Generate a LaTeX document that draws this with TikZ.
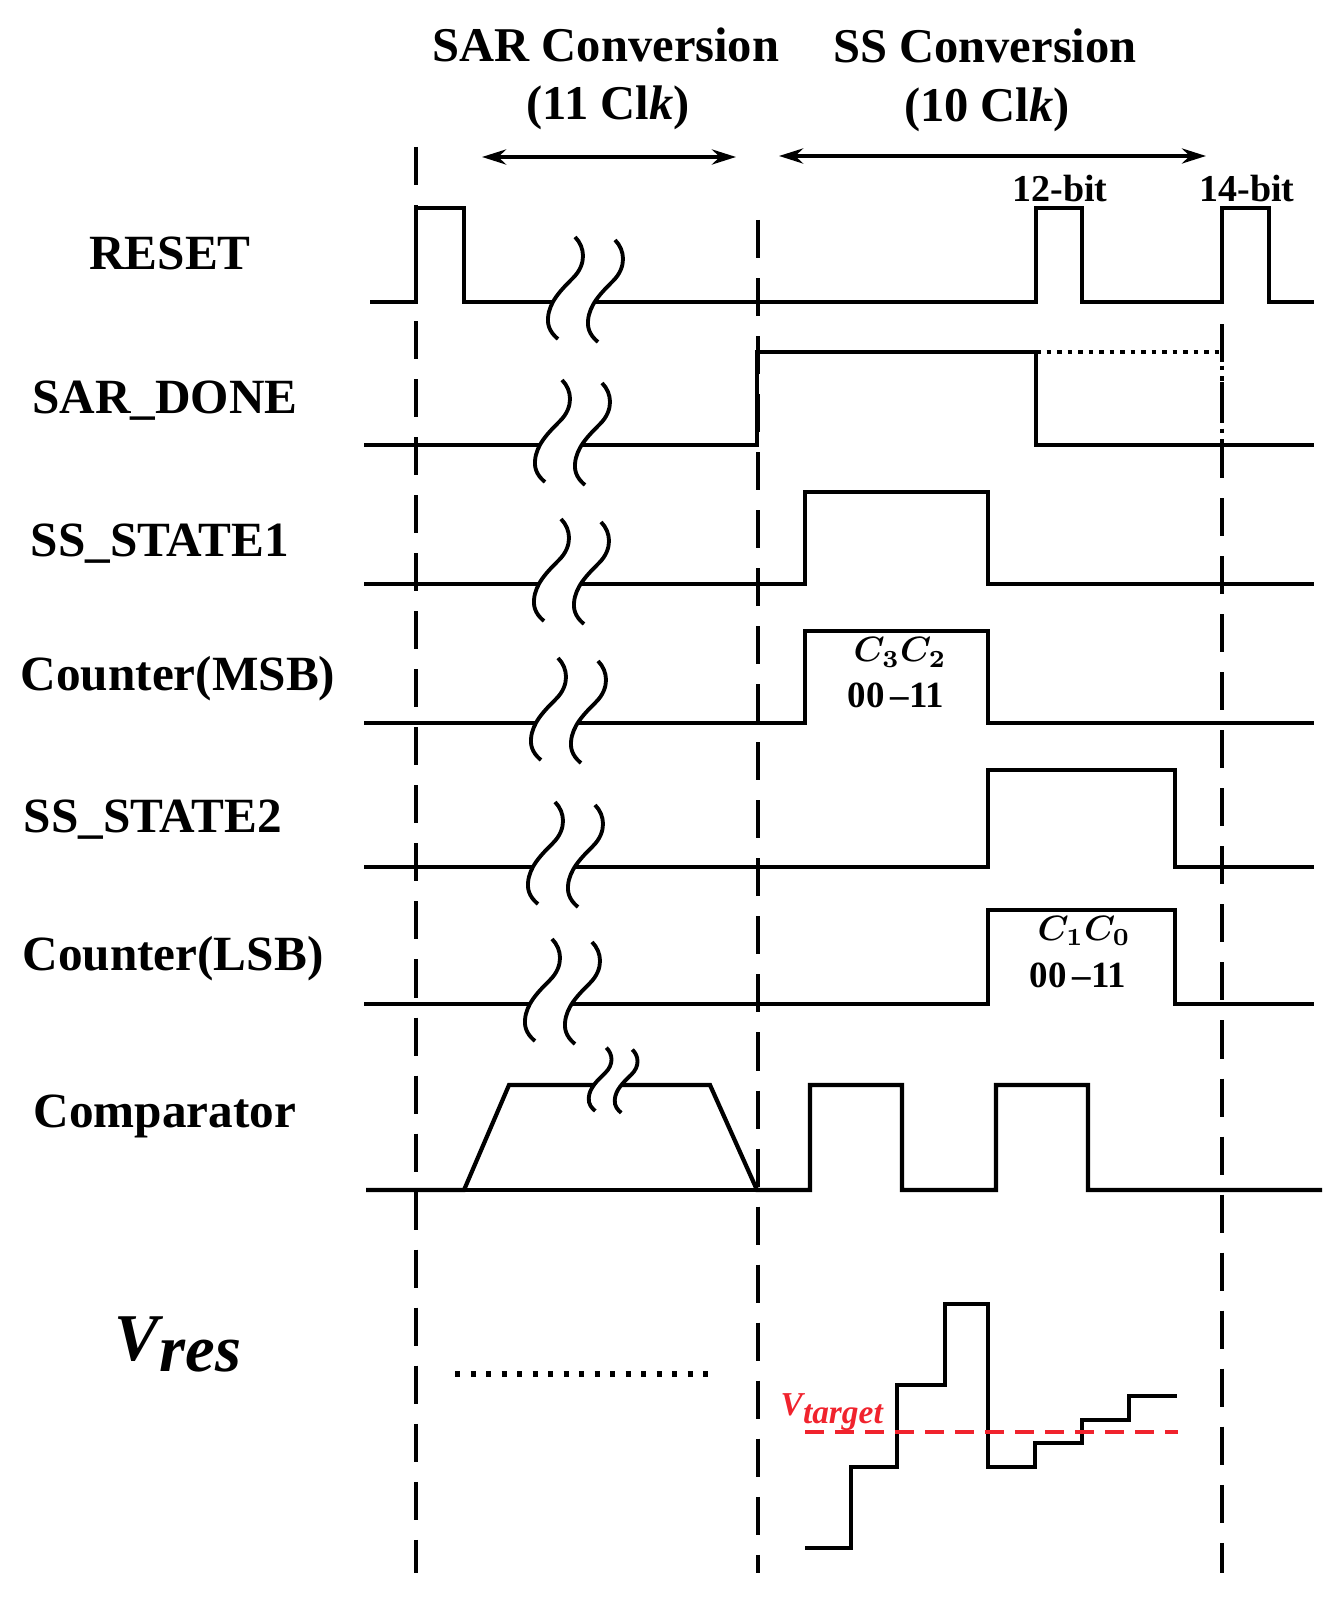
\documentclass[tikz,border=0pt]{standalone}
\usepackage{fontspec}
\setmainfont{Liberation Serif}
\usetikzlibrary{arrows.meta}
\definecolor{tgtred}{RGB}{240,35,45}
\tikzset{
  sig/.style={line width=1.2pt, line join=miter},
  guide/.style={line width=0.9pt, dash pattern=on 0.38cm off 0.2cm},
  dotsig/.style={line width=1.3pt, dash pattern=on 0.045cm off 0.06cm},
  vdots/.style={line width=1.5pt, dash pattern=on 0.05cm off 0.105cm},
  tgtline/.style={tgtred, line width=1pt, dash pattern=on 0.19cm off 0.11cm},
  lbl/.style={font=\fontsize{14}{16}\selectfont\bfseries, anchor=base, inner sep=0pt},
  ttl/.style={font=\fontsize{13.8}{16}\selectfont\bfseries, anchor=base, inner sep=0pt},
  bit/.style={font=\fontsize{10.8}{12}\selectfont\bfseries, anchor=base, inner sep=0pt},
  cnt/.style={font=\fontsize{10.5}{12}\selectfont\bfseries, anchor=base, inner sep=0pt},
  cbits/.style={font=\fontsize{10}{11}\selectfont\boldmath, anchor=base, inner sep=0pt},
  span/.style={line width=1.3pt, {Stealth[length=2.4mm,width=1.5mm]}-{Stealth[length=2.4mm,width=1.5mm]}},
  breakmark/.pic={
    \fill[white] (22,-65) .. controls (32,-55) and (34,-38) .. (20,-24) .. controls (8,-12) and (-4,0) .. (-5,16)
      .. controls (-6,26) and (0,33) .. (5,37) -- (45,40) .. controls (40,36) and (34,29) .. (35,19)
      .. controls (36,3) and (48,-9) .. (60,-21) .. controls (74,-35) and (72,-52) .. (62,-62) -- cycle;
    \draw[line width=1.1pt] (22,-65) .. controls (32,-55) and (34,-38) .. (20,-24) .. controls (8,-12) and (-4,0) .. (-5,16)
      .. controls (-6,26) and (0,33) .. (5,37);
    \draw[line width=1.1pt] (62,-62) .. controls (72,-52) and (74,-35) .. (60,-21) .. controls (48,-9) and (36,3) .. (35,19)
      .. controls (34,29) and (40,36) .. (45,40);
  }
}

\begin{document}
\begin{tikzpicture}[x=0.01cm, y=-0.01cm]
    \useasboundingbox (0,0) rectangle (1341,1598);

    \node[ttl] (sartitle) at (606,62)  {SAR Conversion};
    \node[ttl] (sarclk)   at (608,120) {(11 Cl\textit{k})};
    \node[ttl] (sstitle)  at (985,63)  {SS Conversion};
    \node[ttl] (ssclk)    at (987,122) {(10 Cl\textit{k})};
    \coordinate (sarL) at (482,157);
    \coordinate (sarR) at (736,157);
    \coordinate (ssL)  at (779,156);
    \coordinate (ssR)  at (1206,156);
    \draw[span] (sarL) -- (sarR);
    \draw[span] (ssL)  -- (ssR);
    \node[bit] (bit12) at (1060,202) {12-bit};
    \node[bit] (bit14) at (1247,202) {14-bit};

    \foreach \gx/\gy in {416/147, 758/220, 1222/208}
        \draw[guide] (\gx,\gy) -- (\gx,1573);

    \node[lbl] (reset)   at (170,270)  {RESET};
    \node[lbl] (sardone) at (165,414)  {SAR\_DONE};
    \node[lbl] (ssone)   at (160,557)  {SS\_STATE1};
    \node[lbl] (cntmsb)  at (178,690)  {Counter(MSB)};
    \node[lbl] (sstwo)   at (153,832)  {SS\_STATE2};
    \node[lbl] (cntlsb)  at (173,970)  {Counter(LSB)};
    \node[lbl] (comp)    at (165,1127) {Comparator};
    \node[font=\fontsize{19}{20}\selectfont\bfseries\itshape, anchor=base, inner sep=0pt] (vres) at (178,1360) {V\raisebox{-0.11cm}{res}};

    \draw[sig] (370,302) -- (416,302) -- (416,208) -- (464,208) -- (464,302) -- (1036,302) -- (1036,208)
        -- (1082,208) -- (1082,302) -- (1222,302) -- (1222,208) -- (1269,208) -- (1269,302) -- (1314,302);
    \draw[sig] (364,445) -- (757,445) -- (757,352) -- (1036,352) -- (1036,445) -- (1314,445);
    \draw[dotsig] (1036,352) -- (1222,352) -- (1222,445);
    \draw[sig] (364,584) -- (805,584) -- (805,492) -- (988,492) -- (988,584) -- (1314,584);
    \draw[sig] (364,723) -- (805,723) -- (805,631) -- (988,631) -- (988,723) -- (1314,723);
    \draw[sig] (364,867) -- (988,867) -- (988,770) -- (1175,770) -- (1175,867) -- (1314,867);
    \draw[sig] (364,1004) -- (988,1004) -- (988,910) -- (1175,910) -- (1175,1004) -- (1314,1004);
    \draw[sig] (366,1190) -- (464,1190) -- (509,1085) -- (710,1085) -- (757,1190) -- (810,1190) -- (810,1085)
        -- (902,1085) -- (902,1190) -- (996,1190) -- (996,1085) -- (1088,1085) -- (1088,1190) -- (1322,1190);
    \draw[sig] (464,1190) -- (757,1190);

    \node[cbits] (msbbits) at (900,662) {$C_3C_2$};
    \node[cnt] (msbval) at (896,707) {00\,--11};
    \node[cbits] (lsbbits) at (1084,940) {$C_1C_0$};
    \node[cnt] (lsbval) at (1078,987) {00\,--11};

    \pic at (553,302) {breakmark};
    \pic at (540,445) {breakmark};
    \pic at (539,584) {breakmark};
    \pic at (536,723) {breakmark};
    \pic at (533,867) {breakmark};
    \pic at (530,1004) {breakmark};
    \pic[xscale=0.65, yscale=0.62] at (592,1088) {breakmark};

    \draw[vdots] (455,1374) -- (714,1374);
    \draw[sig] (805,1548) -- (851,1548) -- (851,1467) -- (897,1467) -- (897,1385) -- (945,1385) -- (945,1304)
        -- (988,1304) -- (988,1467) -- (1035,1467) -- (1035,1443) -- (1082,1443) -- (1082,1420) -- (1129,1420)
        -- (1129,1396) -- (1177,1396);
    \draw[tgtline] (805,1432) -- (1178,1432);
    \node[font=\fontsize{9.5}{10}\selectfont\bfseries\itshape, text=tgtred, anchor=base west, inner sep=0pt] (vtarget) at (780,1415) {V\raisebox{-0.08cm}{target}};
\end{tikzpicture}
\end{document}
